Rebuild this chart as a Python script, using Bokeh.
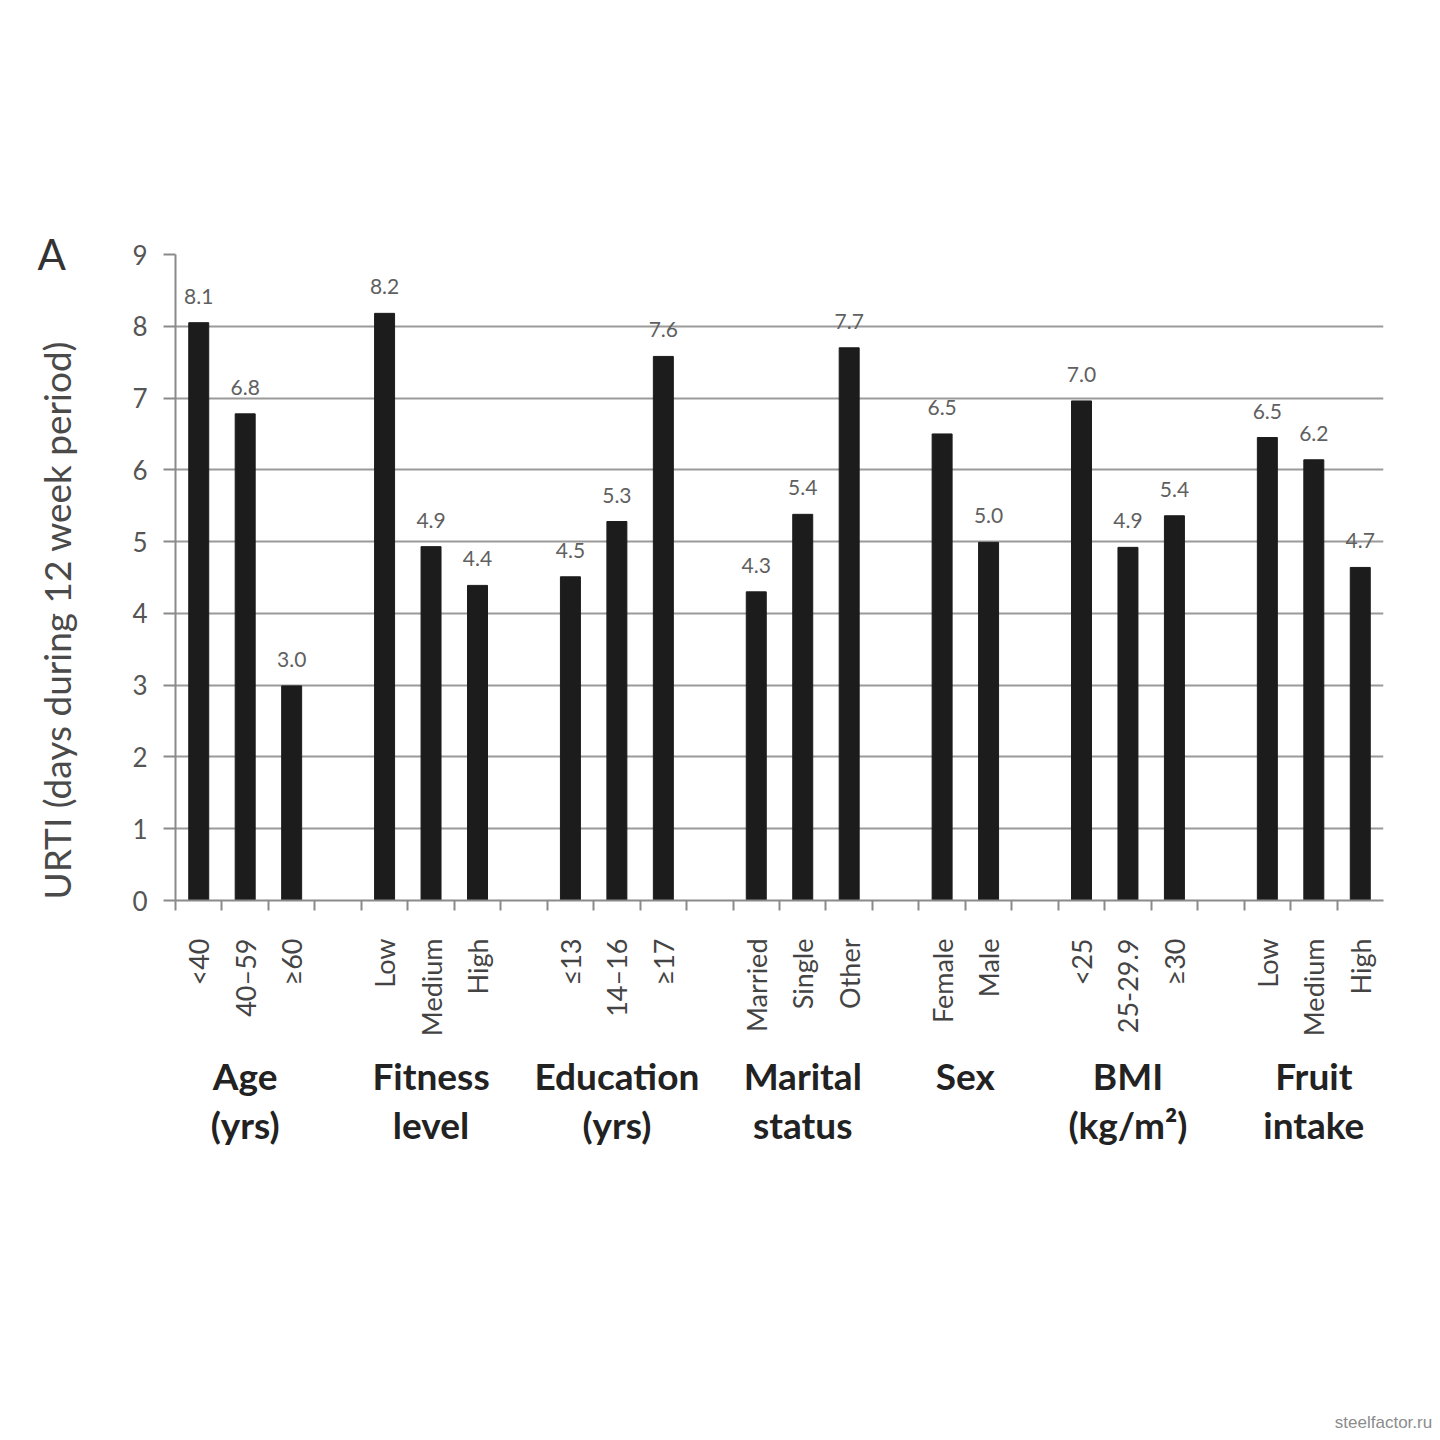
import math
from bokeh.plotting import figure
from bokeh.models import FixedTicker, LinearAxis, Range1d
from bokeh.embed import file_html
from bokeh.resources import INLINE
from bokeh.core.properties import value

# ---- data ----
groups = ["Age\n(yrs)", "Fitness\nlevel", "Education\n(yrs)", "Marital\nstatus",
          "Sex", "BMI\n(kg/m²)", "Fruit\nintake"]
categories = [["<40", "40–59", "≥60"],
              ["Low", "Medium", "High"],
              ["≤13", "14–16", "≥17"],
              ["Married", "Single", "Other"],
              ["Female", "Male"],
              ["<25", "25-29.9", "≥30"],
              ["Low", "Medium", "High"]]
values = [[8.05, 6.78, 2.99],
          [8.18, 4.93, 4.39],
          [4.51, 5.28, 7.58],
          [4.30, 5.38, 7.70],
          [6.50, 4.99],
          [6.96, 4.92, 5.36],
          [6.45, 6.14, 4.64]]
value_labels = [["8.1", "6.8", "3.0"],
                ["8.2", "4.9", "4.4"],
                ["4.5", "5.3", "7.6"],
                ["4.3", "5.4", "7.7"],
                ["6.5", "5.0"],
                ["7.0", "4.9", "5.4"],
                ["6.5", "6.2", "4.7"]]
y_ticks = [0, 1, 2, 3, 4, 5, 6, 7, 8, 9]
y_title = "URTI (days during 12 week period)"
panel_letter = "A"
watermark = "steelfactor.ru"

# ---- slot layout (one empty slot between groups) ----
xs, hs, labs, cats = [], [], [], []
group_centers = []
slot = 0
for gi, (cl, vl, ll) in enumerate(zip(categories, values, value_labels)):
    start = slot
    for c, v, l in zip(cl, vl, ll):
        xs.append(slot + 0.5)
        hs.append(v)
        labs.append(l)
        cats.append(c)
        slot += 1
    group_centers.append((start + slot) / 2.0)
    if gi < len(groups) - 1:
        slot += 1
n_slots = slot

FONT = "Lato"
W, H = 1440, 1440
BL, BR, BT, BB = 175, 57, 254, 540
p = figure(width=W, height=H, output_backend="svg", toolbar_location=None,
           x_range=Range1d(0, n_slots), y_range=Range1d(0, 9),
           min_border_left=BL, min_border_right=BR, min_border_top=BT,
           min_border_bottom=BB)
p.outline_line_color = None
p.background_fill_color = "white"
p.border_fill_color = "white"

p.vbar(x=xs, top=hs, width=0.43, color="#1c1c1c")
p.text(x=xs, y=hs, text=labs, text_align="center", text_baseline="bottom",
       y_offset=-19, text_font=value(FONT), text_font_size="21px", text_color="#606060")

# grid
p.xgrid.visible = False
p.ygrid.grid_line_color = "#9a9a9a"
p.ygrid.grid_line_width = 2
p.ygrid.ticker = FixedTicker(ticks=y_ticks)

# y axis
ya = p.yaxis[0]
ya.ticker = FixedTicker(ticks=y_ticks)
ya.axis_line_color = "#8a8a8a"
ya.axis_line_width = 2
ya.major_tick_line_color = "#8a8a8a"
ya.major_tick_line_width = 2
ya.major_tick_out = 12
ya.major_tick_in = 0
ya.minor_tick_line_color = None
ya.major_label_text_font = FONT
ya.major_label_text_font_size = "26px"
ya.major_label_text_color = "#555555"
ya.major_label_standoff = 16
# trailing no-break spaces shift the centred title toward the axis origin, as in the original
ya.axis_label = y_title + "\u00a0" * 9
ya.axis_label_text_font = FONT
ya.axis_label_text_font_style = "normal"
ya.axis_label_text_font_size = "37px"
ya.axis_label_text_color = "#4a4a4a"
ya.axis_label_standoff = 50

# category x axis
xa = p.xaxis[0]
xa.ticker = FixedTicker(ticks=xs, minor_ticks=list(range(n_slots)))
xa.major_label_overrides = {x: c for x, c in zip(xs, cats)}
xa.major_label_orientation = math.pi / 2
xa.axis_line_color = "#8a8a8a"
xa.axis_line_width = 2
xa.major_tick_line_color = None
xa.major_tick_out = 0
xa.major_tick_in = 0
xa.minor_tick_line_color = "#8a8a8a"
xa.minor_tick_line_width = 2
xa.minor_tick_out = 10
xa.minor_tick_in = 0
xa.major_label_text_font = FONT
xa.major_label_text_font_size = "27px"
xa.major_label_text_color = "#444444"
xa.major_label_standoff = 28

# group axis
ga = LinearAxis(ticker=FixedTicker(ticks=group_centers, minor_ticks=[]))
ga.major_label_overrides = {x: g for x, g in zip(group_centers, groups)}
ga.axis_line_color = None
ga.major_tick_line_color = None
ga.major_tick_out = 0
ga.major_tick_in = 0
ga.minor_tick_line_color = None
ga.major_label_text_font = FONT
ga.major_label_text_font_style = "bold"
ga.major_label_text_font_size = "37px"
ga.major_label_text_color = "#222222"
ga.major_label_text_line_height = 1.1
ga.major_label_standoff = 13
p.add_layout(ga, "below")

# watermark as the label of an outermost bottom axis at the right edge
wa = LinearAxis(ticker=FixedTicker(ticks=[n_slots], minor_ticks=[]))
wa.major_label_overrides = {n_slots: watermark}
wa.axis_line_color = None
wa.major_tick_line_color = None
wa.major_tick_out = 0
wa.major_tick_in = 0
wa.minor_tick_line_color = None
wa.major_label_text_font = "Liberation Sans"
wa.major_label_text_font_size = "17px"
wa.major_label_standoff = 262
if hasattr(wa, "major_label_background_fill_color"):
    wa.major_label_text_color = "white"
    wa.major_label_background_fill_color = "#8c8c8c"
    if hasattr(wa, "major_label_padding"):
        wa.major_label_padding = 5
else:
    wa.major_label_text_color = "#8c8c8c"
p.add_layout(wa, "below")

# panel letter as the plot title
p.title.text = panel_letter
p.title.align = "left"
p.title.offset = 52 - BL - 15
p.title.standoff = -48
p.title.text_font = FONT
p.title.text_font_style = "normal"
p.title.text_font_size = "42px"
p.title.text_color = "#333333"

open("out.html", "w").write(file_html(p, INLINE))
